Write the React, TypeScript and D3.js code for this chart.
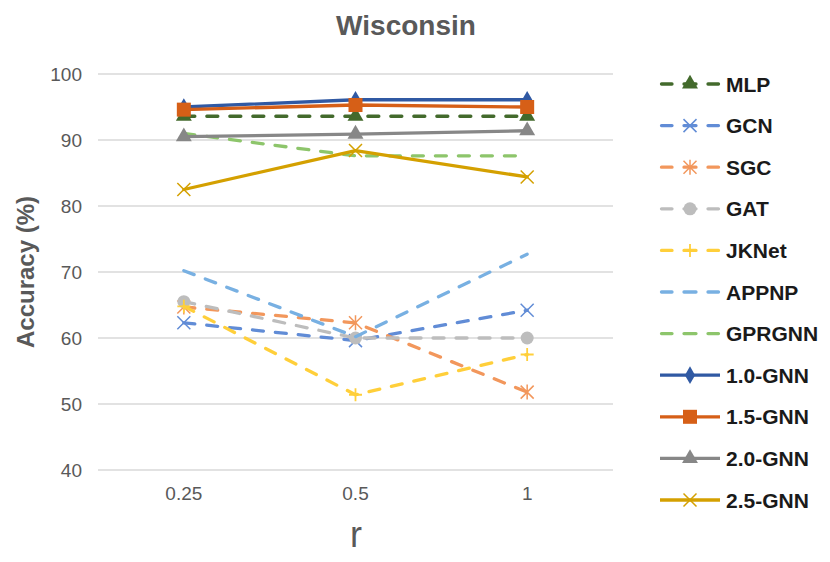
import { useMemo } from 'react';
import * as d3 from 'd3';

const width = 830;
const height = 562;
const margin = { top: 74, right: 217, bottom: 92, left: 98 };

const categories = ['0.25', '0.5', '1'];
const yTicks = [40, 50, 60, 70, 80, 90, 100];

type Marker = 'triangle' | 'x' | 'asterisk' | 'circle' | 'plus' | 'diamond' | 'square' | 'none';
type Series = { name: string; values: number[]; color: string; dashed: boolean; marker: Marker };

const mlp = [93.6, 93.6, 93.6];
const gcn = [62.3, 59.6, 64.2];
const sgc = [64.7, 62.3, 51.8];
const gat = [65.5, 60.0, 60.0];
const jknet = [64.8, 51.4, 57.5];
const appnp = [70.2, 60.2, 72.7];
const gprgnn = [91.0, 87.6, 87.6];
const gnn10 = [95.0, 96.1, 96.1];
const gnn15 = [94.6, 95.3, 95.0];
const gnn20 = [90.5, 90.9, 91.4];
const gnn25 = [82.5, 88.4, 84.4];

const series: Series[] = [
    { name: 'MLP', values: mlp, color: '#436a2c', dashed: true, marker: 'triangle' },
    { name: 'GCN', values: gcn, color: '#618cd6', dashed: true, marker: 'x' },
    { name: 'SGC', values: sgc, color: '#f2975c', dashed: true, marker: 'asterisk' },
    { name: 'GAT', values: gat, color: '#bdbdbd', dashed: true, marker: 'circle' },
    { name: 'JKNet', values: jknet, color: '#ffcf3a', dashed: true, marker: 'plus' },
    { name: 'APPNP', values: appnp, color: '#78b0e2', dashed: true, marker: 'none' },
    { name: 'GPRGNN', values: gprgnn, color: '#8dc56b', dashed: true, marker: 'none' },
    { name: '1.0-GNN', values: gnn10, color: '#3059a3', dashed: false, marker: 'diamond' },
    { name: '1.5-GNN', values: gnn15, color: '#d65f17', dashed: false, marker: 'square' },
    { name: '2.0-GNN', values: gnn20, color: '#878787', dashed: false, marker: 'triangle' },
    { name: '2.5-GNN', values: gnn25, color: '#d4a000', dashed: false, marker: 'x' },
];

const font = '"Liberation Sans", Arial, sans-serif';
const textGrey = '#595959';

const MarkerShape = ({ kind, color, x, y }: { kind: Marker; color: string; x: number; y: number }) => {
    const t = `translate(${x},${y})`;
    const r = 6.5;
    switch (kind) {
        case 'triangle':
            return <path transform={t} d={d3.symbol(d3.symbolTriangle, 110)() || ''} fill={color} />;
        case 'circle':
            return <circle cx={x} cy={y} r={6.5} fill={color} />;
        case 'diamond':
            return <path transform={t} d={d3.symbol(d3.symbolDiamond, 90)() || ''} fill={color} />;
        case 'square':
            return <rect x={x - 7} y={y - 7} width={14} height={14} fill={color} />;
        case 'x':
            return (
                <path transform={t} d={`M${-r},${-r}L${r},${r}M${-r},${r}L${r},${-r}`} stroke={color} strokeWidth={1.5} fill="none" />
            );
        case 'plus':
            return <path transform={t} d={`M${-r},0L${r},0M0,${-r}L0,${r}`} stroke={color} strokeWidth={1.8} fill="none" />;
        case 'asterisk':
            return (
                <path
                    transform={t}
                    d={`M${-r},${-r}L${r},${r}M${-r},${r}L${r},${-r}M0,${-r - 1}L0,${r + 1}`}
                    stroke={color}
                    strokeWidth={1.5}
                    fill="none"
                />
            );
        default:
            return null;
    }
};

export default function App() {
    const boundsWidth = width - margin.left - margin.right;
    const boundsHeight = height - margin.top - margin.bottom;

    const xScale = useMemo(
        () => d3.scaleBand().domain(categories).range([margin.left, margin.left + boundsWidth]),
        [boundsWidth]
    );
    const yScale = useMemo(
        () => d3.scaleLinear().domain([40, 100]).range([margin.top + boundsHeight, margin.top]),
        [boundsHeight]
    );
    const cx = (c: string) => (xScale(c) || 0) + xScale.bandwidth() / 2;

    const lineBuilder = d3
        .line<number>()
        .x((_, i) => cx(categories[i]))
        .y((d) => yScale(d));

    const legendX = 660;
    const legendY0 = 84;
    const legendStep = 41.6;

    return (
        <svg width={width} height={height} style={{ position: 'absolute', left: 0, top: 0, background: '#fff' }}>
            <text x={406} y={35} textAnchor="middle" fontFamily={font} fontWeight="bold" fontSize={28} fill={textGrey}>
                Wisconsin
            </text>

            {/* grid */}
            {yTicks.map((t) => (
                <g key={t}>
                    <line
                        x1={margin.left}
                        x2={margin.left + boundsWidth}
                        y1={yScale(t)}
                        y2={yScale(t)}
                        stroke="#d9d9d9"
                        strokeWidth={1.5}
                    />
                    <text x={82} y={yScale(t)} dy="0.35em" textAnchor="end" fontFamily={font} fontSize={19} fill={textGrey}>
                        {t}
                    </text>
                </g>
            ))}

            {categories.map((c) => (
                <text key={c} x={cx(c)} y={500} textAnchor="middle" fontFamily={font} fontSize={19} fill={textGrey}>
                    {c}
                </text>
            ))}

            <text x={356} y={547} textAnchor="middle" fontFamily={font} fontSize={36} fill={textGrey}>
                r
            </text>
            <text
                transform={`translate(34,${margin.top + boundsHeight / 2}) rotate(-90)`}
                textAnchor="middle"
                fontFamily={font}
                fontWeight="bold"
                fontSize={24}
                fill={textGrey}
            >
                Accuracy (%)
            </text>

            {/* series */}
            {series.map((s) => (
                <g key={s.name}>
                    <path
                        d={lineBuilder(s.values) || ''}
                        fill="none"
                        stroke={s.color}
                        strokeWidth={3.3}
                        strokeLinecap="round"
                        strokeLinejoin="round"
                        strokeDasharray={s.dashed ? '11 12' : undefined}
                    />
                    {s.values.map((v, i) => (
                        <MarkerShape key={i} kind={s.marker} color={s.color} x={cx(categories[i])} y={yScale(v)} />
                    ))}
                </g>
            ))}

            {/* legend */}
            {series.map((s, i) => {
                const y = legendY0 + i * legendStep;
                return (
                    <g key={s.name}>
                        {s.dashed ? (
                            <path
                                d={`M${legendX + 1.5},${y}H${legendX + 12}M${legendX + 24},${y}H${legendX + 36}M${legendX + 48},${y}H${legendX + 58.5}`}
                                stroke={s.color}
                                strokeWidth={3.3}
                                strokeLinecap="round"
                            />
                        ) : (
                            <line x1={legendX} x2={legendX + 60} y1={y} y2={y} stroke={s.color} strokeWidth={3.3} />
                        )}
                        {s.marker !== 'none' && <MarkerShape kind={s.marker} color={s.color} x={legendX + 30} y={y} />}
                        <text x={726} y={y} dy="0.36em" fontFamily={font} fontWeight="bold" fontSize={21} fill="#1a1a1a">
                            {s.name}
                        </text>
                    </g>
                );
            })}
        </svg>
    );
}
